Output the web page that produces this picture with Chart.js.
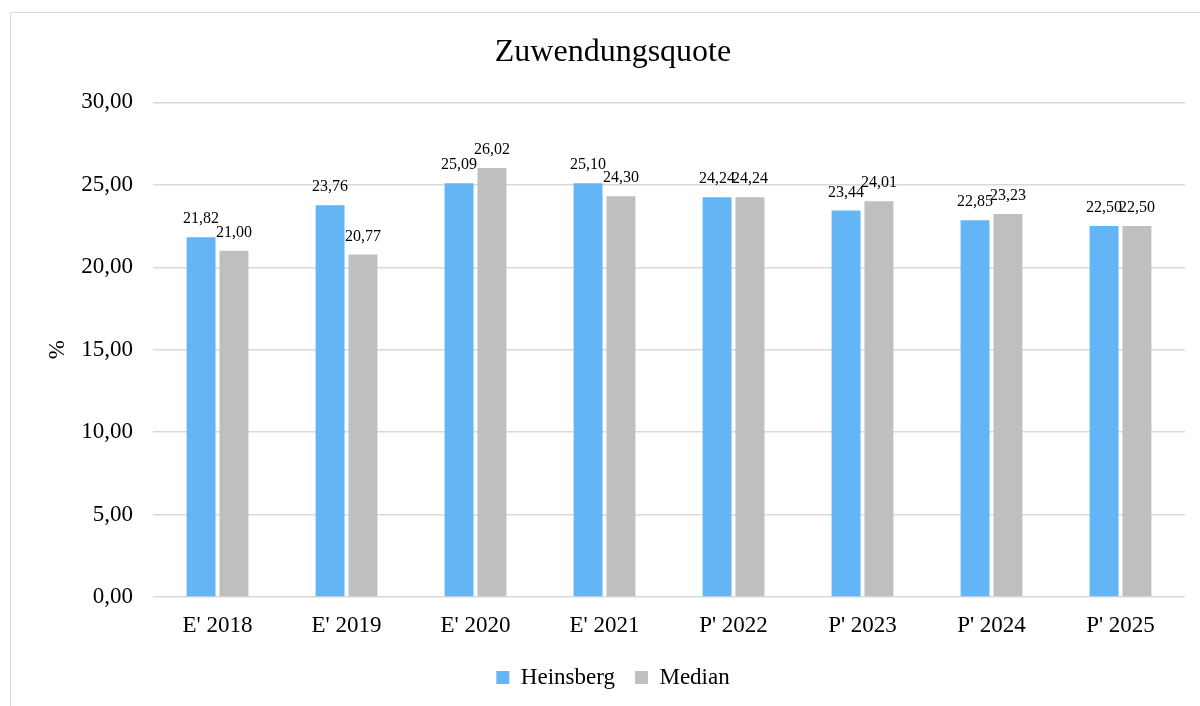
<!DOCTYPE html>
<html>
<head>
<meta charset="utf-8">
<script src="https://cdn.jsdelivr.net/npm/chart.js@4.4.1/dist/chart.umd.min.js"></script>
<style>
  html, body { margin: 0; padding: 0; background: #fff; overflow: hidden; }
  #wrap {
    position: absolute; left: 10px; top: 12px;
    width: 1204px; height: 694px;
    border-left: 1.5px solid #d9d9d9; border-top: 1.5px solid #d9d9d9;
  }
</style>
</head>
<body>
<div id="wrap"><canvas id="chart"></canvas></div>
<script>
const categories = ["E' 2018", "E' 2019", "E' 2020", "E' 2021", "P' 2022", "P' 2023", "P' 2024", "P' 2025"];
const heinsberg = [21.82, 23.76, 25.09, 25.10, 24.24, 23.44, 22.85, 22.50];
const median = [21.00, 20.77, 26.02, 24.30, 24.24, 24.01, 23.23, 22.50];
const yTicks = [0, 5, 10, 15, 20, 25, 30];

const serif = '"Liberation Serif", "Times New Roman", serif';
const fmt = v => v.toFixed(2).replace('.', ',');

// value labels above each bar
const valueLabels = {
    id: 'valueLabels',
    afterDatasetsDraw(chart) {
        const ctx = chart.ctx;
        ctx.save();
        ctx.font = '16px ' + serif;
        ctx.fillStyle = '#000';
        ctx.textAlign = 'center';
        ctx.textBaseline = 'alphabetic';
        chart.data.datasets.forEach((ds, i) => {
            chart.getDatasetMeta(i).data.forEach((bar, j) => {
                ctx.fillText(fmt(ds.data[j]), bar.x, bar.y - 14);
            });
        });
        ctx.restore();
    }
};

new Chart(document.getElementById('chart'), {
    type: 'bar',
    data: {
        labels: categories,
        datasets: [
            { label: 'Heinsberg', data: heinsberg, backgroundColor: '#64b5f6' },
            { label: 'Median', data: median, backgroundColor: '#bfbfbf' }
        ]
    },
    options: {
        responsive: true,
        maintainAspectRatio: false,
        animation: false,
        events: [],
        categoryPercentage: 0.51,
        barPercentage: 0.88,
        layout: { padding: { left: 30, right: 30, top: 0, bottom: 8 } },
        plugins: {
            title: {
                display: true,
                text: 'Zuwendungsquote',
                color: '#000',
                font: { family: serif, size: 32, weight: 'normal' },
                padding: { top: 20, bottom: 31 }
            },
            legend: {
                position: 'bottom',
                labels: {
                    color: '#000',
                    font: { family: serif, size: 23 },
                    boxWidth: 13,
                    boxHeight: 13,
                    padding: 20
                }
            },
            tooltip: { enabled: false }
        },
        scales: {
            x: {
                grid: { display: false, drawTicks: false },
                border: { display: false },
                ticks: { color: '#000', font: { family: serif, size: 23 }, padding: 15 },
                afterFit: s => { s.height = 49; }
            },
            y: {
                min: 0,
                max: 30,
                afterBuildTicks: s => { s.ticks = yTicks.map(v => ({ value: v })); },
                grid: { color: '#d9d9d9', lineWidth: 1.5, drawTicks: false },
                border: { display: false },
                ticks: { color: '#000', font: { family: serif, size: 23 }, padding: 20, callback: v => fmt(v) },
                title: {
                    display: true,
                    text: '%',
                    color: '#000',
                    font: { family: serif, size: 23 },
                    padding: { top: 3, bottom: 0 }
                },
                afterFit: s => { s.width = 112; }
            }
        }
    },
    plugins: [valueLabels]
});
</script>
</body>
</html>
